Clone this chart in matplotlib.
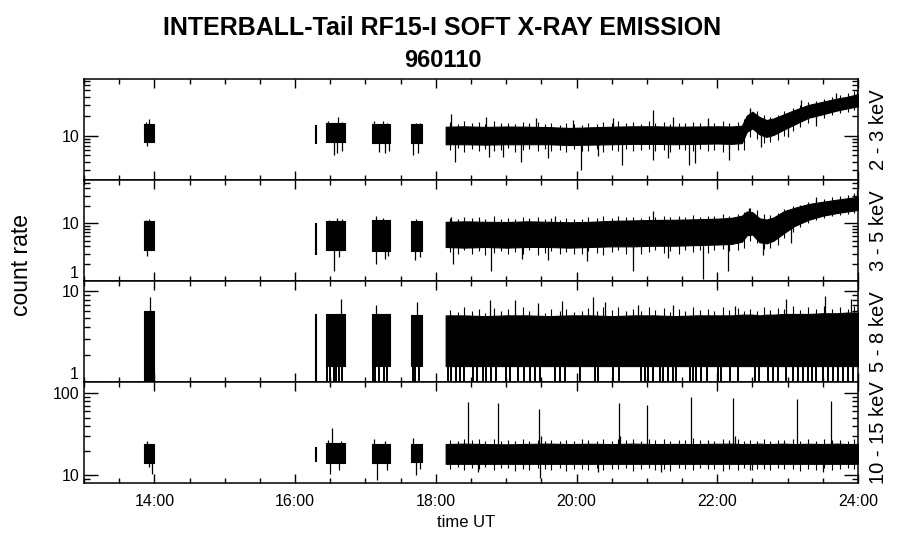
import matplotlib
matplotlib.use("Agg")
import matplotlib.pyplot as plt
import numpy as np
from matplotlib.ticker import FixedLocator, LogLocator, NullFormatter, FuncFormatter

plt.rcParams["font.family"] = ["Liberation Sans", "DejaVu Sans"]

# =====================================================
# Data (time in hours UT, count rates)
# =====================================================

bands = ["2 - 3 keV", "3 - 5 keV", "5 - 8 keV", "10 - 15 keV"]
ylims = [(2.05, 74), (1.0, 55), (1.0, 12.8), (8.06, 136)]

# short data passes before the long one
seg_start = [13.86, 16.28, 16.44, 17.09, 17.65]
seg_end = [13.99, 16.30, 16.71, 17.35, 17.80]

# long pass, envelope sample times
main_t = [18.14, 18.4, 18.7, 19.0, 19.3, 19.6, 19.9, 20.2, 20.5, 20.8,
          21.1, 21.4, 21.7, 22.0, 22.2, 22.35, 22.42, 22.5, 22.6, 22.7,
          22.8, 22.95, 23.1, 23.3, 23.5, 23.7, 23.85, 24.0]

# times of the noise fringe samples on the long pass
fringe_t = [18.20, 18.31, 18.40, 18.52, 18.61, 18.70, 18.83, 18.92,
            19.03, 19.12, 19.24, 19.33, 19.45, 19.55, 19.64, 19.76,
            19.85, 19.97, 20.08, 20.17, 20.29, 20.38, 20.50, 20.59,
            20.71, 20.80, 20.92, 21.03, 21.12, 21.24, 21.33, 21.45,
            21.54, 21.66, 21.75, 21.87, 21.96, 22.08, 22.17, 22.29,
            22.38, 22.47, 22.56, 22.66, 22.75, 22.86, 22.95, 23.07,
            23.18, 23.29, 23.41, 23.52, 23.63, 23.75, 23.86, 23.95]

# 2 - 3 keV
p1_seg_lo = [8.0, 7.6, 8.0, 7.6, 7.8]
p1_seg_hi = [15.0, 14.5, 15.5, 15.0, 15.0]
p1_lo = [7.4, 7.4, 7.3, 7.4, 7.4, 7.4, 7.2, 7.3, 7.4, 7.5,
         7.5, 7.4, 7.5, 7.6, 7.5, 7.7, 11.5, 13.0, 10.5, 9.6,
         10.3, 12.5, 15.0, 19.0, 21.5, 24.5, 26.5, 28.5]
p1_hi = [13.8, 14.0, 13.7, 13.9, 13.8, 13.6, 13.2, 13.5, 13.8, 14.0,
         14.0, 13.8, 13.9, 14.0, 13.9, 14.3, 20.5, 23.5, 19.5, 17.5,
         18.5, 21.5, 25.0, 30.0, 33.5, 37.5, 40.0, 44.0]
p1_fr_top = [16.2, 15.4, 17.0, 15.8, 16.5, 15.2, 16.8, 15.6,
             16.0, 15.0, 16.6, 15.5, 16.2, 15.3, 15.8, 14.8,
             15.6, 15.0, 14.9, 15.8, 15.2, 16.4, 15.5, 16.9,
             15.7, 16.3, 15.4, 16.8, 15.9, 16.5, 15.3, 16.0,
             15.6, 16.6, 15.8, 16.2, 15.5, 16.8, 15.6, 16.4,
             18.0, 26.0, 24.0, 21.0, 19.5, 21.0, 24.0, 27.0,
             30.0, 33.0, 35.0, 37.0, 40.0, 42.0, 45.0, 49.0]
p1_fr_bot = [6.0, 6.4, 5.7, 6.2, 5.9, 6.3, 5.8, 6.1,
             6.4, 5.6, 6.0, 6.2, 5.8, 6.3, 5.9, 6.1,
             5.6, 6.2, 5.8, 5.9, 6.2, 5.7, 6.1, 5.9,
             6.3, 5.8, 6.0, 6.3, 5.9, 6.1, 5.7, 6.2,
             6.0, 5.8, 6.3, 5.9, 6.1, 5.7, 6.2, 6.0,
             6.0, 9.5, 9.0, 7.8, 8.0, 8.5, 10.0, 12.0,
             13.5, 16.0, 18.5, 19.0, 21.0, 22.5, 23.5, 25.0]
p1_up_t = [13.88, 13.93, 16.47, 16.61, 16.67, 17.12, 17.25, 17.30, 17.72,
           17.78, 18.21, 18.72, 19.43, 19.95, 20.52, 21.08, 21.37, 21.87,
           22.46, 23.19, 23.69, 23.98]
p1_up_v = [16.5, 18.4, 17.0, 19.5, 16.5, 17.0, 16.8, 16.0, 16.0,
           15.5, 22.0, 19.8, 18.6, 17.5, 18.6, 25.0, 19.8, 18.6,
           27.3, 35.8, 45.5, 51.0]
p1_dn_t = [13.90, 16.55, 16.60, 16.66, 17.20, 17.28, 17.33, 17.68, 17.75,
           18.27, 18.76, 18.95, 19.21, 19.60, 20.06, 20.30, 20.64, 21.08,
           21.30, 21.60, 21.69, 22.17, 22.62, 23.00, 23.40]
p1_dn_v = [7.0, 5.0, 5.5, 5.8, 5.6, 5.4, 5.8, 5.0, 5.4,
           3.9, 4.7, 4.7, 4.0, 4.5, 3.0, 4.8, 3.5, 4.2,
           4.6, 3.5, 3.85, 4.2, 6.7, 9.5, 14.0]

# 3 - 5 keV
p2_seg_lo = [3.4, 3.0, 3.4, 3.3, 3.3]
p2_seg_hi = [11.0, 10.0, 11.0, 11.5, 11.0]
p2_lo = [3.9, 3.8, 3.9, 3.8, 3.9, 3.9, 3.8, 3.9, 4.0, 4.0,
         4.1, 4.1, 4.2, 4.3, 4.4, 4.8, 6.2, 6.4, 4.7, 4.5,
         5.0, 6.8, 9.0, 11.5, 13.5, 15.0, 16.0, 17.0]
p2_hi = [10.6, 10.8, 10.6, 10.5, 10.8, 10.6, 10.4, 10.6, 11.0, 11.2,
         11.4, 11.5, 11.7, 12.0, 12.4, 13.5, 16.0, 15.5, 12.2, 11.6,
         12.6, 16.2, 18.5, 21.5, 23.5, 25.5, 27.0, 28.5]
p2_fr_top = [12.4, 11.8, 13.0, 12.2, 12.8, 11.9, 13.2, 12.0,
             12.5, 11.7, 12.9, 12.1, 12.6, 11.8, 12.3, 11.6,
             12.2, 11.9, 12.0, 12.6, 12.2, 13.1, 12.4, 13.5,
             12.6, 13.0, 12.5, 13.6, 12.8, 13.3, 12.6, 13.2,
             12.9, 13.8, 13.0, 13.6, 13.2, 14.2, 13.6, 14.5,
             15.5, 18.0, 17.0, 14.5, 13.8, 15.0, 17.5, 19.5,
             21.0, 23.5, 25.0, 26.5, 28.0, 29.5, 31.0, 33.0]
p2_fr_bot = [3.2, 2.9, 3.4, 3.0, 3.3, 2.8, 3.1, 3.3,
             2.9, 3.2, 3.0, 3.4, 2.8, 3.1, 3.3, 2.9,
             3.2, 3.0, 2.9, 3.3, 3.1, 2.8, 3.2, 3.4,
             3.0, 3.3, 2.9, 3.2, 3.5, 3.1, 3.3, 3.0,
             3.4, 3.2, 3.5, 3.1, 3.4, 3.6, 3.3, 3.5,
             3.8, 5.0, 4.5, 3.6, 3.8, 4.3, 5.5, 7.0,
             8.5, 10.0, 11.5, 12.5, 13.5, 14.0, 14.5, 15.0]
p2_up_t = [13.88, 13.93, 16.48, 16.60, 16.66, 17.15, 17.25, 17.72, 18.22,
           19.70, 21.08, 22.45, 23.40, 23.98]
p2_up_v = [11.5, 12.0, 11.5, 12.5, 11.8, 13.5, 12.2, 11.8, 13.0,
           13.5, 16.0, 18.5, 28.0, 37.5]
p2_dn_t = [13.90, 16.55, 16.62, 17.15, 17.28, 17.32, 17.70, 17.77, 18.25,
           18.78, 19.23, 19.60, 20.15, 20.80, 21.30, 21.80, 22.15, 22.65,
           23.05]
p2_dn_v = [2.7, 1.48, 2.6, 2.0, 2.4, 2.7, 2.3, 2.6, 2.0,
           1.52, 2.4, 2.3, 2.2, 1.5, 2.5, 1.1, 1.5, 2.8,
           4.5]

# 5 - 8 keV
p3_seg_lo = [1.0, 1.0, 1.5, 1.5, 1.5]
p3_seg_hi = [6.0, 5.6, 5.6, 5.6, 5.5]
p3_lo = [1.5] * len(main_t)
p3_hi = [5.4, 5.4, 5.3, 5.4, 5.4, 5.3, 5.4, 5.4, 5.3, 5.4,
         5.4, 5.3, 5.4, 5.4, 5.4, 5.5, 5.5, 5.5, 5.4, 5.5,
         5.5, 5.6, 5.6, 5.6, 5.7, 5.7, 5.8, 5.8]
p3_fr_top = [6.2, 5.9, 6.6, 6.0, 6.4, 5.8, 6.5, 6.1,
             6.3, 5.9, 6.6, 6.0, 6.2, 5.8, 6.4, 6.0,
             6.3, 5.9, 6.1, 6.5, 6.0, 6.6, 6.2, 6.7,
             6.1, 6.4, 6.0, 6.6, 6.2, 6.5, 5.9, 6.3,
             6.1, 6.7, 6.2, 6.4, 6.0, 6.6, 6.2, 6.5,
             6.1, 6.4, 6.0, 6.6, 6.2, 6.5, 6.3, 6.8,
             6.2, 6.6, 6.3, 6.9, 6.4, 6.7, 6.3, 6.8]
p3_up_t = [13.94, 16.65, 17.15, 17.73, 18.77, 19.12, 19.45, 19.79, 20.24,
           20.40, 20.87, 21.37, 22.25, 22.98, 23.53, 23.90]
p3_up_v = [8.6, 8.2, 7.0, 7.5, 7.9, 8.0, 7.3, 7.8, 8.6,
           7.6, 7.0, 7.0, 6.8, 8.2, 8.9, 8.2]
# samples that drop to zero counts (off the bottom of the log axis)
p3_zero_t = [16.46, 16.50, 16.55, 16.58, 16.63, 16.67, 17.11, 17.14, 17.20,
             17.26, 17.31, 17.67, 17.70, 17.76,
             18.17, 18.22, 18.29, 18.35, 18.40, 18.53, 18.59, 18.67, 18.72,
             18.78, 18.86, 19.00, 19.05, 19.17, 19.26, 19.34, 19.41, 19.48,
             19.69, 19.76, 19.83, 20.05, 20.26, 20.31, 20.52, 20.61, 20.92,
             20.97, 21.02, 21.09, 21.18, 21.23, 21.30, 21.37, 21.42, 21.61,
             21.66, 21.70, 21.77, 21.85, 22.01, 22.06, 22.18, 22.29, 22.53,
             22.60, 22.72, 22.79, 22.86, 22.98, 23.08, 23.15, 23.22, 23.29,
             23.34, 23.41, 23.50, 23.57, 23.64, 23.72, 23.79, 23.86, 23.93]

# 10 - 15 keV
p4_seg_lo = [14.0, 15.0, 14.0, 14.0, 14.5]
p4_seg_hi = [24.0, 22.0, 24.5, 24.0, 24.0]
p4_lo = [13.8] * len(main_t)
p4_hi = [24.0, 24.3, 24.0, 23.8, 24.1, 24.3, 24.0, 24.2, 24.0, 24.3,
         24.0, 24.1, 24.0, 24.2, 24.3, 24.0, 24.1, 24.0, 24.3, 24.0,
         24.1, 24.3, 24.0, 24.2, 24.0, 24.3, 24.0, 24.1]
p4_fr_top = [27.0, 26.2, 28.0, 26.6, 27.4, 26.0, 27.8, 26.4,
             27.1, 25.8, 27.6, 26.3, 27.2, 26.1, 26.8, 25.9,
             26.6, 26.0, 27.9, 26.7, 26.2, 27.4, 26.5, 27.9,
             26.7, 27.3, 26.4, 27.8, 26.9, 27.5, 26.3, 27.0,
             26.6, 28.2, 26.8, 27.2, 26.5, 27.8, 26.6, 27.4,
             26.2, 27.0, 26.4, 27.7, 26.3, 27.1, 26.8, 27.9,
             26.5, 27.3, 26.1, 27.6, 26.7, 27.2, 26.4, 27.5]
p4_fr_bot = [12.0, 12.5, 11.6, 12.3, 11.8, 12.6, 11.5, 12.2,
             12.4, 11.4, 12.1, 11.7, 12.4, 11.9, 11.6, 12.3,
             11.3, 12.1, 11.8, 11.7, 12.2, 11.5, 12.0, 11.8,
             12.3, 11.4, 12.1, 12.4, 11.7, 11.9, 11.4, 12.2,
             12.0, 11.5, 12.3, 11.8, 12.1, 11.4, 12.0, 11.7,
             12.2, 11.6, 12.1, 11.9, 11.5, 12.3, 11.8, 12.0,
             11.4, 12.1, 11.7, 12.2, 11.5, 11.9, 12.3, 11.8]
p4_up_t = [13.90, 16.47, 16.52, 16.65, 17.12, 17.28, 17.67, 18.46, 18.89,
           19.47, 19.50, 20.61, 20.62, 21.00, 21.62, 22.23, 22.25, 23.13,
           23.61]
p4_up_v = [26.0, 27.0, 37.2, 26.0, 28.0, 26.0, 28.5, 78.0, 75.0,
           63.4, 30.0, 75.0, 30.0, 71.6, 88.6, 86.4, 30.0, 83.6,
           80.0]
p4_dn_t = [13.92, 13.97, 16.50, 16.62, 17.16, 17.30, 17.72, 17.78, 18.60,
           19.48, 20.30, 21.20, 22.50, 23.50]
p4_dn_v = [12.5, 10.3, 10.3, 11.5, 8.8, 11.5, 10.2, 11.8, 11.0,
           9.2, 11.0, 11.0, 11.5, 11.0]


# =====================================================
# Drawing
# =====================================================

def envelope(seg_lo, seg_hi, lo, hi):

    t = []
    env_lo = []
    env_hi = []

    for t0, t1, a, b in zip(seg_start, seg_end, seg_lo, seg_hi):
        t += [t0, t1]
        env_lo += [a, a]
        env_hi += [b, b]

    t += list(main_t)
    env_lo += list(lo)
    env_hi += list(hi)

    return np.array(t), np.array(env_lo), np.array(env_hi)


def draw_panel(ax, seg_lo, seg_hi, lo, hi, fr_top, fr_bot,
               up_t, up_v, dn_t, dn_v):

    for t0, t1, a, b in zip(seg_start, seg_end, seg_lo, seg_hi):
        ax.fill_between([t0, t1], [a, a], [b, b],
                        color="black", linewidth=0.8)

    ax.fill_between(main_t, lo, hi, color="black", linewidth=0.8)

    t, env_lo, env_hi = envelope(seg_lo, seg_hi, lo, hi)
    mid = np.sqrt(env_lo * env_hi)

    # noise fringe around the long pass
    ax.vlines(fringe_t, np.interp(fringe_t, t, mid), fr_top,
              color="black", linewidth=0.8)
    if fr_bot:
        ax.vlines(fringe_t, fr_bot, np.interp(fringe_t, t, mid),
                  color="black", linewidth=0.8)

    # isolated spikes
    ax.vlines(up_t, np.interp(up_t, t, mid), up_v,
              color="black", linewidth=0.9)
    if dn_t:
        ax.vlines(dn_t, dn_v, np.interp(dn_t, t, mid),
                  color="black", linewidth=0.9)


fig, axes = plt.subplots(4, 1, sharex=True, figsize=(9, 5.48), dpi=100)
fig.subplots_adjust(left=0.0933, right=0.9533, top=0.855,
                    bottom=0.1186, hspace=0)

panels = [
    (p1_seg_lo, p1_seg_hi, p1_lo, p1_hi, p1_fr_top, p1_fr_bot,
     p1_up_t, p1_up_v, p1_dn_t, p1_dn_v),
    (p2_seg_lo, p2_seg_hi, p2_lo, p2_hi, p2_fr_top, p2_fr_bot,
     p2_up_t, p2_up_v, p2_dn_t, p2_dn_v),
    (p3_seg_lo, p3_seg_hi, p3_lo, p3_hi, p3_fr_top, None,
     p3_up_t, p3_up_v, [], []),
    (p4_seg_lo, p4_seg_hi, p4_lo, p4_hi, p4_fr_top, p4_fr_bot,
     p4_up_t, p4_up_v, p4_dn_t, p4_dn_v),
]


def ylabel_fmt(bottom):
    # the label sitting on the lower frame is drawn by hand, raised
    return FuncFormatter(
        lambda v, p: "" if np.isclose(v, bottom) else f"{v:g}"
    )


for ax, data, band, ylim in zip(axes, panels, bands, ylims):

    ax.set_yscale("log")
    draw_panel(ax, *data)

    ax.set_xlim(13, 24)
    ax.set_ylim(*ylim)

    ax.xaxis.set_major_locator(FixedLocator([14, 16, 18, 20, 22, 24]))
    ax.xaxis.set_minor_locator(FixedLocator(np.arange(13, 24.01, 0.5)))
    ax.xaxis.set_major_formatter(FuncFormatter(lambda v, p: f"{int(v)}:00"))

    ax.yaxis.set_major_locator(LogLocator(base=10, numticks=10))
    ax.yaxis.set_minor_locator(
        LogLocator(base=10, subs=np.arange(2, 10), numticks=10)
    )
    ax.yaxis.set_major_formatter(ylabel_fmt(ylim[0]))
    ax.yaxis.set_minor_formatter(NullFormatter())

    ax.tick_params(which="both", direction="in", top=True, right=True,
                   width=1.0, labelsize=11.5, color="black")
    ax.tick_params(axis="x", which="major", length=6.5, pad=8)
    ax.tick_params(axis="x", which="minor", length=3.6)
    ax.tick_params(axis="y", which="major", length=10, pad=3.5)
    ax.tick_params(axis="y", which="minor", length=4.5)

    for sp in ax.spines.values():
        sp.set_linewidth(1.1)

    if np.isclose(ylim[0], 1.0):
        ax.text(-0.0065, 0.0, "1", transform=ax.transAxes,
                ha="right", va="bottom", fontsize=11.5)

    ax.text(1.027, 0.5, band, transform=ax.transAxes, rotation=90,
            ha="center", va="center", fontsize=14.5)

# zero-count samples in the 5 - 8 keV channel
axes[2].vlines(p3_zero_t, 0.5, 1.5, color="black", linewidth=1.4)

fig.text(0.491, 0.949, "INTERBALL-Tail RF15-I SOFT X-RAY EMISSION",
         ha="center", va="center", fontsize=18, fontweight="bold")
fig.text(0.492, 0.889, "960110",
         ha="center", va="center", fontsize=17, fontweight="bold")

fig.text(0.024, 0.516, "count rate", rotation=90,
         ha="center", va="center", fontsize=16.5)
fig.text(0.518, 0.046, "time UT", ha="center", va="center", fontsize=12)

fig.savefig("out.png", dpi=100)
